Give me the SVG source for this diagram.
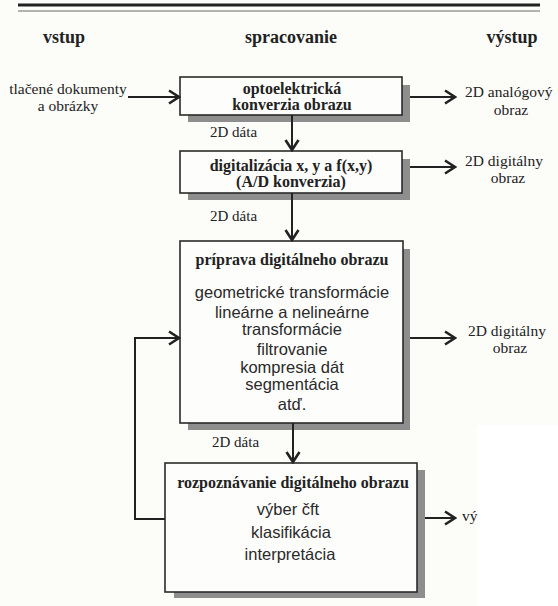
<svg xmlns="http://www.w3.org/2000/svg" width="558" height="606" viewBox="0 0 558 606">
<style>
.hdr{font-family:"Liberation Serif","Times New Roman",serif;font-weight:bold;font-size:18px;fill:#222;text-anchor:middle}
.bt{font-family:"Liberation Serif","Times New Roman",serif;font-weight:bold;font-size:16px;fill:#222;text-anchor:middle}
.lbl{font-family:"Liberation Serif","Times New Roman",serif;font-size:15.5px;fill:#222}
.dl{font-family:"Liberation Serif","Times New Roman",serif;font-size:15px;fill:#222}
.sans{font-family:"Liberation Sans",Arial,sans-serif;font-size:16.5px;fill:#2a2a2a;text-anchor:middle}
.box{fill:#fdfdfb;stroke:#2a2a2a;stroke-width:1.6}
.shd{fill:#8e8e8e}
.con{fill:none;stroke:#222;stroke-width:2}
</style>
<defs>
<marker id="ah" viewBox="0 0 14 16" refX="12" refY="8" markerWidth="14" markerHeight="16" markerUnits="userSpaceOnUse" orient="auto">
<path d="M2,1.5 L12,8 L2,14.5" fill="none" stroke="#222" stroke-width="2.6" stroke-linejoin="miter"/>
</marker>
</defs>
<rect width="558" height="606" fill="#fcfcf9"/>
<rect x="477" y="425" width="81" height="181" fill="#ffffff"/>
<line x1="18" y1="5" x2="540" y2="5" stroke="#222" stroke-width="3"/>
<line x1="18" y1="11" x2="540" y2="11" stroke="#9a9a9a" stroke-width="1.5"/>
<text class="hdr" x="64" y="43">vstup</text>
<text class="hdr" x="291" y="43">spracovanie</text>
<text class="hdr" x="512" y="43">výstup</text>

<g id="input">
<text class="lbl" x="68" y="94" text-anchor="middle">tlačené dokumenty</text>
<text class="lbl" x="68" y="111" text-anchor="middle">a obrázky</text>
</g>

<g id="box1">
<rect class="shd" x="188" y="85" width="222" height="37"/>
<rect class="box" x="180" y="77" width="222" height="38"/>
<text class="bt" x="292" y="94">optoelektrická</text>
<text class="bt" x="292" y="110">konverzia obrazu</text>
</g>
<g id="out1">
<text class="lbl" x="465" y="97">2D analógový</text>
<text class="lbl" x="511" y="115" text-anchor="middle">obraz</text>
</g>

<g id="box2">
<rect class="shd" x="188" y="159" width="222" height="41"/>
<rect class="box" x="180" y="151" width="222" height="42"/>
<text class="bt" x="291" y="171">digitalizácia x, y a f(x,y)</text>
<text class="bt" x="291" y="187">(A/D konverzia)</text>
</g>
<g id="out2">
<text class="lbl" x="465" y="166">2D digitálny</text>
<text class="lbl" x="508" y="183" text-anchor="middle">obraz</text>
</g>

<g id="box3">
<rect class="shd" x="188" y="249" width="222" height="181"/>
<rect class="box" x="180" y="241" width="223" height="182"/>
<text class="bt" x="292" y="265">príprava digitálneho obrazu</text>
<text class="sans" x="292" y="298">geometrické transformácie</text>
<text class="sans" x="292" y="318">lineárne a nelineárne</text>
<text class="sans" x="292" y="335">transformácie</text>
<text class="sans" x="292" y="355">filtrovanie</text>
<text class="sans" x="292" y="373">kompresia dát</text>
<text class="sans" x="292" y="390">segmentácia</text>
<text class="sans" x="292" y="410">atď.</text>
</g>
<g id="out3">
<text class="lbl" x="468" y="336">2D digitálny</text>
<text class="lbl" x="510" y="353" text-anchor="middle">obraz</text>
</g>

<g id="box4">
<rect class="shd" x="174" y="470" width="251" height="128"/>
<rect class="box" x="165" y="463" width="252" height="129"/>
<text class="bt" x="293" y="488">rozpoznávanie digitálneho obrazu</text>
<text class="sans" x="288" y="515">výber čft</text>
<text class="sans" x="291" y="538">klasifikácia</text>
<text class="sans" x="290" y="560">interpretácia</text>
</g>
<g id="out4">
<text class="lbl" x="462" y="521">vý</text>
</g>

<g id="labels">
<text class="dl" x="210" y="137">2D dáta</text>
<text class="dl" x="210" y="221">2D dáta</text>
<text class="dl" x="212" y="447">2D dáta</text>
</g>

<g id="connectors">
<line class="con" x1="128" y1="97" x2="179" y2="97" marker-end="url(#ah)"/>
<line class="con" x1="410" y1="97" x2="455" y2="97" marker-end="url(#ah)"/>
<line class="con" x1="292" y1="115" x2="292" y2="150" marker-end="url(#ah)"/>
<line class="con" x1="410" y1="167" x2="455" y2="167" marker-end="url(#ah)"/>
<line class="con" x1="292" y1="193" x2="292" y2="240" marker-end="url(#ah)"/>
<line class="con" x1="410" y1="338" x2="455" y2="338" marker-end="url(#ah)"/>
<line class="con" x1="293" y1="423" x2="293" y2="462" marker-end="url(#ah)"/>
<line class="con" x1="425" y1="518" x2="455" y2="518" marker-end="url(#ah)"/>
<path class="con" d="M165,519 H135 V338 H179" marker-end="url(#ah)"/>
</g>
</svg>
